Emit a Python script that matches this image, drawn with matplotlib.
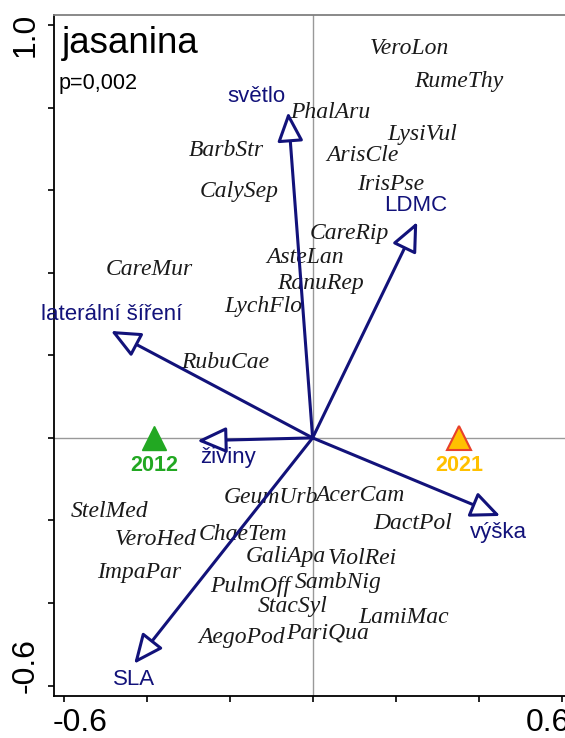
import matplotlib.pyplot as plt
import numpy as np

plt.rcParams['axes.unicode_minus'] = False

# species scores
species = ['VeroLon', 'RumeThy', 'PhalAru', 'LysiVul', 'ArisCle', 'IrisPse', 'CareRip',
           'BarbStr', 'CalySep', 'AsteLan', 'RanuRep', 'LychFlo', 'CareMur', 'RubuCae',
           'GeumUrb', 'AcerCam', 'StelMed', 'VeroHed', 'ChaeTem', 'ImpaPar', 'GaliApa',
           'ViolRei', 'PulmOff', 'SambNig', 'StacSyl', 'LamiMac', 'AegoPod', 'PariQua',
           'DactPol']
sp_x = [0.233, 0.351, 0.042, 0.264, 0.119, 0.189, 0.088,
        -0.208, -0.177, -0.018, 0.018, -0.119, -0.394, -0.211,
        -0.100, 0.114, -0.490, -0.377, -0.167, -0.418, -0.064,
        0.119, -0.150, 0.061, -0.047, 0.218, -0.172, 0.035,
        0.242]
sp_y = [0.944, 0.862, 0.787, 0.734, 0.683, 0.613, 0.496,
        0.697, 0.596, 0.436, 0.375, 0.317, 0.407, 0.182,
        -0.145, -0.140, -0.179, -0.247, -0.235, -0.327, -0.288,
        -0.293, -0.360, -0.349, -0.409, -0.436, -0.484, -0.472,
        -0.208]

# trait arrows (tips) and where their labels sit
traits = ['světlo', 'LDMC', 'laterální šíření', 'živiny', 'výška', 'SLA']
trait_x = [-0.059, 0.252, -0.486, -0.278, 0.452, -0.430]
trait_y = [0.789, 0.523, 0.259, -0.007, -0.189, -0.547]
trait_lab_x = [-0.136, 0.249, -0.483, -0.204, 0.447, -0.430]
trait_lab_y = [0.826, 0.562, 0.298, -0.048, -0.228, -0.584]

# year centroids
years = ['2012', '2021']
year_x = [-0.382, 0.353]
year_y = [0.0, 0.0]

navy = '#12127a'

fig = plt.figure(figsize=(5.65, 7.38), dpi=100)
ax = fig.add_axes([54 / 565, 42 / 738, 516 / 565, 681 / 738])
ax.set_xlim(-0.623, 0.62)
ax.set_ylim(-0.625, 1.024)

# zero lines
ax.axhline(0, color='#999999', lw=1, zorder=1)
ax.axvline(0, color='#999999', lw=1, zorder=1)

# species names
for name, x, y in zip(species, sp_x, sp_y):
    ax.text(x, y, name, ha='center', va='center', fontsize=17, style='italic',
            family='Liberation Serif', color='#1a1a1a', zorder=3)

# trait arrows
for name, x, y, lx, ly in zip(traits, trait_x, trait_y, trait_lab_x, trait_lab_y):
    ax.annotate('', xy=(x, y), xytext=(0, 0),
                arrowprops=dict(arrowstyle='-|>,head_length=0.9,head_width=0.4',
                                mutation_scale=20, fc='white', ec=navy, lw=2.2,
                                shrinkA=0, shrinkB=0), zorder=4)
    ax.text(lx, ly, name, ha='center', va='center', fontsize=16,
            family='Liberation Sans', color=navy, zorder=4)

# year centroids
ax.plot(year_x[0], year_y[0], marker='^', ms=17, color='#22a822', mec='#22a822', zorder=5)
ax.plot(year_x[1], year_y[1], marker='^', ms=17, color='#ffc000', mec='#e8402a',
        mew=1.5, zorder=5)
for lab, x, y, c in zip(years, year_x, year_y, ['#22a822', '#ffc000']):
    ax.annotate(lab, xy=(x, y), xytext=(0, -20), textcoords='offset points',
                ha='center', va='center', fontsize=15.5, fontweight='bold',
                family='Liberation Sans', color=c, zorder=5)

# axes styling
ax.spines['right'].set_visible(False)
ax.spines['top'].set_color('#808080')
for s in ['left', 'bottom', 'top']:
    ax.spines[s].set_linewidth(1.3)
ax.set_xticks(np.arange(-0.6, 0.61, 0.2))
ax.set_yticks(np.arange(-0.6, 1.01, 0.2))
ax.set_xticklabels([])
ax.set_yticklabels([])
ax.tick_params(direction='out', length=4, width=1.2, color='black')

# end labels of the axes, nudged inward like the original
for val, dx in [(-0.6, 12), (0.6, -10)]:
    ax.annotate(f'{val:.1f}', xy=(val, 0), xycoords=('data', 'axes fraction'),
                xytext=(dx, -19.5), textcoords='offset points', ha='center',
                va='center', fontsize=23, family='Liberation Sans',
                annotation_clip=False)
for val, dy in [(1.0, -7), (-0.6, 14.5)]:
    ax.annotate(f'{val:.1f}', xy=(0, val), xycoords=('axes fraction', 'data'),
                xytext=(-20.5, dy), textcoords='offset points', ha='center',
                va='center', fontsize=23, rotation=90, family='Liberation Sans',
                annotation_clip=False)

fig.text(62 / 565, 1 - 53 / 738, 'jasanina', fontsize=26.5, family='Liberation Sans',
         va='baseline', ha='left')
fig.text(59 / 565, 1 - 89 / 738, 'p=0,002', fontsize=15.6, family='Liberation Sans',
         va='baseline', ha='left')

fig.savefig('out.png', dpi=100)
